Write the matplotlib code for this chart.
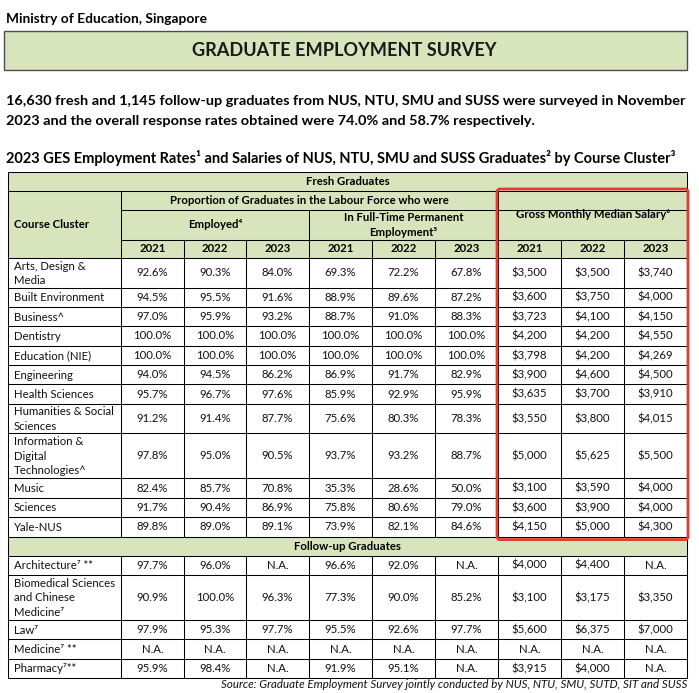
import matplotlib.pyplot as plt
from matplotlib.patches import Rectangle, FancyBboxPatch

plt.rcParams['font.family'] = ['Lato', 'DejaVu Sans']

years = ['2021', '2022', '2023']

clusters = ['Arts, Design &\nMedia', 'Built Environment', 'Business^', 'Dentistry',
            'Education (NIE)', 'Engineering', 'Health Sciences',
            'Humanities & Social\nSciences', 'Information &\nDigital\nTechnologies^',
            'Music', 'Sciences', 'Yale-NUS']
employed = [[92.6, 90.3, 84.0], [94.5, 95.5, 91.6], [97.0, 95.9, 93.2],
            [100.0, 100.0, 100.0], [100.0, 100.0, 100.0], [94.0, 94.5, 86.2],
            [95.7, 96.7, 97.6], [91.2, 91.4, 87.7], [97.8, 95.0, 90.5],
            [82.4, 85.7, 70.8], [91.7, 90.4, 86.9], [89.8, 89.0, 89.1]]
fulltime = [[69.3, 72.2, 67.8], [88.9, 89.6, 87.2], [88.7, 91.0, 88.3],
            [100.0, 100.0, 100.0], [100.0, 100.0, 100.0], [86.9, 91.7, 82.9],
            [85.9, 92.9, 95.9], [75.6, 80.3, 78.3], [93.7, 93.2, 88.7],
            [35.3, 28.6, 50.0], [75.8, 80.6, 79.0], [73.9, 82.1, 84.6]]
salary = [[3500, 3500, 3740], [3600, 3750, 4000], [3723, 4100, 4150],
          [4200, 4200, 4550], [3798, 4200, 4269], [3900, 4600, 4500],
          [3635, 3700, 3910], [3550, 3800, 4015], [5000, 5625, 5500],
          [3100, 3590, 4000], [3600, 3900, 4000], [4150, 5000, 4300]]

fu_clusters = ['Architecture\u2077 **', 'Biomedical Sciences\nand Chinese\nMedicine\u2077',
               'Law\u2077', 'Medicine\u2077 **', 'Pharmacy\u2077**']
fu_employed = [[97.7, 96.0, None], [90.9, 100.0, 96.3], [97.9, 95.3, 97.7],
               [None, None, None], [95.9, 98.4, None]]
fu_fulltime = [[96.6, 92.0, None], [77.3, 90.0, 85.2], [95.5, 92.6, 97.7],
               [None, None, None], [91.9, 95.1, None]]
fu_salary = [[4000, 4400, None], [3100, 3175, 3350], [5600, 6375, 7000],
             [None, None, None], [3915, 4000, None]]

# ---- layout ----
GREEN = '#d8e4bc'
RED = '#e53a2f'
LW = 0.75
fig = plt.figure(figsize=(6.99, 6.93), dpi=100)
ax = fig.add_axes([0, 0, 1, 1])
ax.set_xlim(0, 699)
ax.set_ylim(693, 0)
ax.axis('off')

colx = [8, 121, 184, 246, 309, 372, 435, 498, 561, 624, 687]
line_h = {1: 19.4, 2: 29.5, 3: 45.0}
FS = 8.2


def fit(t, width):
    r = fig.canvas.get_renderer()
    bb = t.get_window_extent(r)
    t.set_fontsize(t.get_fontsize() * width / bb.width)


def hline(y, x0, x1):
    ax.plot([x0, x1], [y, y], color='black', lw=LW, solid_capstyle='butt')


def vline(x, y0, y1):
    ax.plot([x, x], [y0, y1], color='black', lw=LW, solid_capstyle='butt')


def pct(v):
    return 'N.A.' if v is None else f'{v:.1f}%'


def usd(v):
    return 'N.A.' if v is None else f'${v:,}'


# header texts above table
t = ax.text(6, 19, 'Ministry of Education, Singapore', fontsize=9.3, fontweight='bold', va='center')
fit(t, 200)
ax.add_patch(Rectangle((4, 31), 683, 39, facecolor=GREEN, edgecolor='#4d4d4d', lw=1.0))
t = ax.text(344, 51, 'GRADUATE EMPLOYMENT SURVEY', fontsize=14, fontweight='bold',
            ha='center', va='center', color='#1a1a1a')
fit(t, 305)
t = ax.text(6, 101, '16,630 fresh and 1,145 follow-up graduates from NUS, NTU, SMU and SUSS '
            'were surveyed in November', fontsize=10, fontweight='bold', va='center')
fit(t, 681)
ax.text(6, 121, '2023 and the overall response rates obtained were 74.0% and 58.7% respectively.',
        fontsize=t.get_fontsize(), fontweight='bold', va='center')
t = ax.text(6, 158, '2023 GES Employment Rates\u00b9 and Salaries of NUS, NTU, SMU and SUSS '
            'Graduates\u00b2 by Course Cluster\u00b3', fontsize=10, fontweight='bold', va='center')
fit(t, 675)

# table header block
top = 172
hdr = [172, 191, 210, 240, 258]
ax.add_patch(Rectangle((colx[0], top), colx[-1] - colx[0], hdr[-1] - top,
                       facecolor=GREEN, edgecolor='none'))
ax.text((colx[0] + colx[-1]) / 2, 181.5, 'Fresh Graduates', fontsize=FS, fontweight='bold',
        ha='center', va='center')
ax.text((colx[1] + colx[7]) / 2, 200.5, 'Proportion of Graduates in the Labour Force who were',
        fontsize=FS, fontweight='bold', ha='center', va='center')
ax.text(14, 225, 'Course Cluster', fontsize=FS, fontweight='bold', va='center')
ax.text((colx[1] + colx[4]) / 2, 225, 'Employed\u2074', fontsize=FS, fontweight='bold',
        ha='center', va='center')
ax.text((colx[4] + colx[7]) / 2, 225, 'In Full-Time Permanent\nEmployment\u2075', fontsize=FS,
        fontweight='bold', ha='center', va='center', linespacing=1.4)
ax.text((colx[7] + colx[10]) / 2, 215, 'Gross Monthly Median Salary\u2076', fontsize=FS,
        fontweight='bold', ha='center', va='center')
for k in range(9):
    ax.text((colx[k + 1] + colx[k + 2]) / 2, 249, years[k % 3], fontsize=FS,
            fontweight='bold', ha='center', va='center')

hline(hdr[0], colx[0], colx[-1])
hline(hdr[1], colx[0], colx[-1])
hline(hdr[2], colx[1], colx[-1])
hline(hdr[3], colx[1], colx[-1])
vline(colx[1], hdr[1], hdr[-1])
vline(colx[4], hdr[2], hdr[-1])
vline(colx[7], hdr[1], hdr[-1])
for k in [2, 3, 5, 6, 8, 9]:
    vline(colx[k], hdr[3], hdr[-1])


def draw_rows(y, names, emp, ft, sal):
    for name, e, f, s in zip(names, emp, ft, sal):
        h = line_h[name.count('\n') + 1]
        ym = y + h / 2
        ax.text(14, ym + 0.5, name, fontsize=FS, va='center', linespacing=1.38, color='#111111')
        vals = [pct(v) for v in e] + [pct(v) for v in f] + [usd(v) for v in s]
        for k, v in enumerate(vals):
            ax.text((colx[k + 1] + colx[k + 2]) / 2, ym, v, fontsize=FS, ha='center',
                    va='center', color='#111111')
        hline(y, colx[0], colx[-1])
        for x in colx[1:-1]:
            vline(x, y, y + h)
        y += h
    hline(y, colx[0], colx[-1])
    return y


y = draw_rows(hdr[-1], clusters, employed, fulltime, salary)
red_bottom = y

# follow-up banner
ax.add_patch(Rectangle((colx[0], y), colx[-1] - colx[0], 19, facecolor=GREEN, edgecolor='none'))
ax.text((colx[0] + colx[-1]) / 2, y + 9.5, 'Follow-up Graduates', fontsize=FS,
        fontweight='bold', ha='center', va='center')
y = draw_rows(y + 19, fu_clusters, fu_employed, fu_fulltime, fu_salary)

vline(colx[0], top, y)
vline(colx[-1], top, y)

# red highlight box around salaries
ax.add_patch(FancyBboxPatch((colx[7] - 1, 189), colx[-1] - colx[7] + 2, red_bottom - 189 + 3,
                            boxstyle='round,pad=0,rounding_size=3', facecolor='none',
                            edgecolor=RED, lw=2.0, zorder=5))

t = ax.text(687, 684, 'Source: Graduate Employment Survey jointly conducted by NUS, NTU, SMU, SUTD, SIT and SUSS',
            fontsize=7.6, style='italic', ha='right', va='center', color='#111111')
fit(t, 462)

fig.savefig('out.png', dpi=100)
